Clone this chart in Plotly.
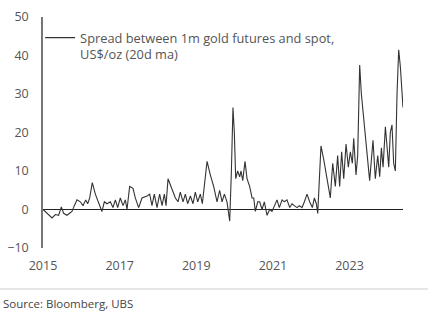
import plotly.graph_objects as go

dates = [
    "2015-01-01", "2015-02-08", "2015-03-28", "2015-04-29", "2015-05-30", "2015-06-25",
    "2015-07-17", "2015-08-18", "2015-09-12", "2015-10-04", "2015-10-27", "2015-11-21",
    "2015-12-23", "2016-01-17", "2016-02-12", "2016-03-02", "2016-03-21", "2016-04-15",
    "2016-05-14", "2016-06-15", "2016-07-16", "2016-08-08", "2016-09-02", "2016-10-04",
    "2016-10-29", "2016-11-21", "2016-12-13", "2017-01-07", "2017-02-02", "2017-02-24",
    "2017-03-12", "2017-04-06", "2017-05-08", "2017-05-30", "2017-07-01", "2017-08-02",
    "2017-09-19", "2017-10-14", "2017-11-05", "2017-11-27", "2017-12-23", "2018-01-17",
    "2018-02-09", "2018-03-03", "2018-03-19", "2018-04-07", "2018-05-15", "2018-06-16",
    "2018-07-11", "2018-08-02", "2018-08-28", "2018-09-19", "2018-10-11", "2018-11-06",
    "2018-12-01", "2018-12-23", "2019-01-15", "2019-02-09", "2019-02-28", "2019-03-19",
    "2019-04-14", "2019-05-15", "2019-06-16", "2019-07-18", "2019-08-12", "2019-09-04",
    "2019-09-26", "2019-10-21", "2019-11-16", "2019-12-02", "2019-12-17", "2019-12-30",
    "2020-01-12", "2020-01-31", "2020-02-19", "2020-03-03", "2020-03-19", "2020-04-10",
    "2020-04-29", "2020-05-24", "2020-06-16", "2020-07-02", "2020-07-17", "2020-08-09",
    "2020-08-28", "2020-09-19", "2020-10-11", "2020-11-06", "2020-12-01", "2020-12-23",
    "2021-01-15", "2021-02-09", "2021-03-03", "2021-03-29", "2021-04-20", "2021-05-15",
    "2021-06-10", "2021-07-02", "2021-07-24", "2021-08-19", "2021-09-10", "2021-10-05",
    "2021-10-28", "2021-11-22", "2021-12-17", "2022-01-12", "2022-01-31", "2022-02-19",
    "2022-03-04", "2022-03-13", "2022-04-04", "2022-04-30", "2022-06-01", "2022-07-02",
    "2022-07-25", "2022-08-19", "2022-09-10", "2022-09-29", "2022-10-18", "2022-11-07",
    "2022-11-29", "2022-12-21", "2023-01-09", "2023-01-28", "2023-02-10", "2023-03-04",
    "2023-03-20", "2023-04-08", "2023-04-24", "2023-05-16", "2023-06-17", "2023-07-12",
    "2023-08-13", "2023-09-04", "2023-09-27", "2023-10-16", "2023-11-01", "2023-11-17",
    "2023-12-09", "2023-12-25", "2024-01-10", "2024-01-25", "2024-02-10", "2024-02-26",
    "2024-03-13", "2024-03-29", "2024-04-14", "2024-04-30", "2024-05-16", "2024-05-25",
]

spread = [
    0, -1, -2.2, -1.3, -1.5, 0.7,
    -1, -1.5, -1, -0.5, 1, 2.5,
    2, 1, 2.5, 1.5, 3, 7,
    4, 1.5, -0.5, 2, 1.5, 2,
    0.5, 2.5, 0.5, 3, 1, 2.5,
    0, 6, 5.5, 3, 0.5, 3,
    3.5, 4, 1, 4, 0.5, 4,
    1, 4, 1, 8, 5, 3,
    2, 4.5, 2, 4, 1.5, 3.5,
    1.5, 4.5, 2, 4, 1.5, 7,
    12.5, 9, 6, 2, 5, 2,
    4, 2, -3, 10, 26.5, 20,
    8, 10, 8.5, 10, 7.5, 12.5,
    8, 6, 3, 3, -0.5, 2,
    2, 0, 2, -1.5, 0, -0.5,
    1, 2.5, 0.5, 2.5, 2, 2.5,
    0.5, 1.5, 1, 0.5, 1, 0.5,
    2, 4, 2, 0.5, 3, 1.5,
    -1, 5, 16.5, 13, 8, 3,
    12, 6, 14, 6, 15, 8,
    17, 11, 15, 12, 18.5, 9,
    14, 37.5, 30, 24, 14, 7.5,
    18, 8, 14, 8.5, 16, 11,
    21.5, 17, 11, 20, 22, 12,
    10, 30, 41.5, 37, 29, 26.5,
]

y_ticks = [-10, 0, 10, 20, 30, 40, 50]
x_ticks = ["2015-01-01", "2017-01-01", "2019-01-01", "2021-01-01", "2023-01-01"]
x_labels = ["2015", "2017", "2019", "2021", "2023"]

series_name = "Spread between 1m gold futures and spot,<br>US$/oz (20d ma)"
source_text = "Source: Bloomberg, UBS"

FONT = "Open Sans"
TXT = "#555555"

fig = go.Figure()
fig.add_trace(go.Scatter(
    x=dates, y=spread, mode="lines", name=series_name,
    line=dict(color="#333333", width=1.1),
    showlegend=True,
))

W, H = 441, 328
ml, mr, mt, mb = 43, 38, 17, 80
pw = W - ml - mr
ph = H - mt - mb

fig.update_layout(
    width=W, height=H,
    margin=dict(l=ml, r=mr, t=mt, b=mb, pad=0, autoexpand=False),
    paper_bgcolor="white", plot_bgcolor="white",
    font=dict(family=FONT, size=12, color=TXT),
    showlegend=True,
    legend=dict(
        x=-0.008, y=0.975, xanchor="left", yanchor="top",
        bgcolor="rgba(0,0,0,0)", borderwidth=0,
        font=dict(family=FONT, size=12.8, color=TXT),
        itemwidth=30, valign="top", tracegroupgap=0,
    ),
    xaxis=dict(
        type="date", range=["2015-01-01", "2024-05-25"],
        tickvals=x_ticks, ticktext=x_labels, automargin=False,
        showgrid=False, zeroline=False, showline=False, ticks="",
        tickfont=dict(family=FONT, size=12.5, color=TXT),
        ticklabelstandoff=8,
    ),
    yaxis=dict(
        range=[-10, 50], tickvals=y_ticks, automargin=False,
        showgrid=False, zeroline=True, zerolinecolor="#222222", zerolinewidth=1,
        showline=True, linecolor="#777777", linewidth=1.5, ticks="",
        tickfont=dict(family=FONT, size=12.5, color=TXT),
        ticklabelstandoff=10,
    ),
    shapes=[dict(
        type="line", xref="paper", yref="paper",
        x0=-ml / pw, x1=(428 - ml) / pw,
        y0=-(289 - (H - mb)) / ph, y1=-(289 - (H - mb)) / ph,
        line=dict(color="#cccccc", width=1),
    )],
    annotations=[dict(
        text=source_text, xref="paper", yref="paper",
        x=-(ml - 0.5) / pw, y=-(303 - (H - mb)) / ph,
        xanchor="left", yanchor="middle", showarrow=False,
        font=dict(family=FONT, size=11.5, color="#444444"),
    )],
)

fig.write_html("out.html")
